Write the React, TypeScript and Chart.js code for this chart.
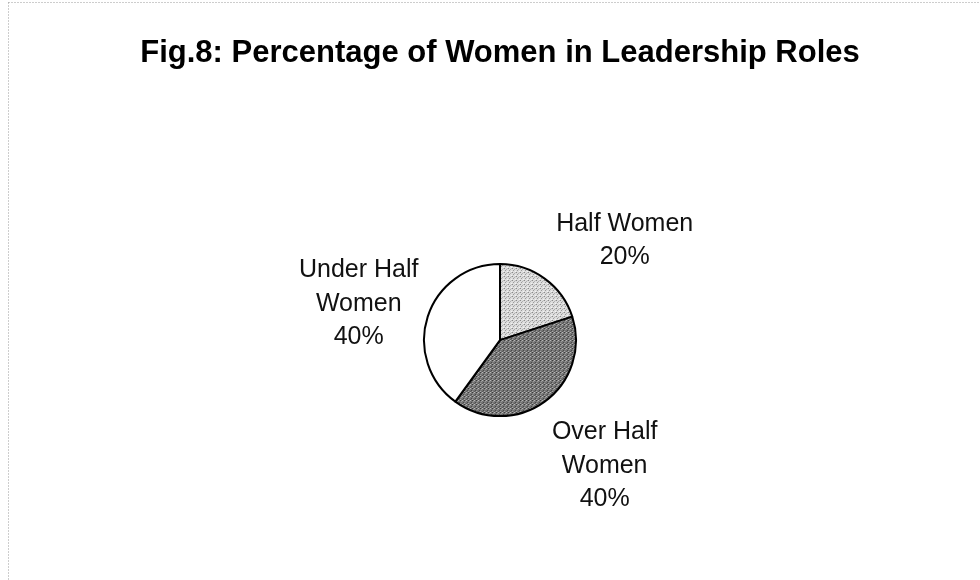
import React, { useEffect, useRef } from "react";
import { Chart, registerables } from "chart.js";

Chart.register(...registerables);

const titleText = "Fig.8: Percentage of Women in Leadership Roles";
const categories = ["Half Women", "Over Half Women", "Under Half Women"];
const labelNames = [["Half Women"], ["Over Half", "Women"], ["Under Half", "Women"]];
const values = [20, 40, 40];
// label offsets from the arc's outer edge at its mid-angle (px)
const labelOffsets = [
  [80, -40],
  [60, 62],
  [-69, -15],
];

function makePattern(bg: string, dots: [number, number, string][], size: number) {
  const c = document.createElement("canvas");
  c.width = size;
  c.height = size;
  const g = c.getContext("2d")!;
  g.fillStyle = bg;
  g.fillRect(0, 0, size, size);
  for (const [x, y, col] of dots) {
    g.fillStyle = col;
    g.fillRect(x, y, 1, 1);
  }
  const ctx = document.createElement("canvas").getContext("2d")!;
  return ctx.createPattern(c, "repeat") as CanvasPattern;
}

export default function App() {
  const ref = useRef<HTMLCanvasElement | null>(null);

  useEffect(() => {
    document.body.style.margin = "0";
    const lightPat = makePattern(
      "#dcdcdc",
      [
        [0, 0, "#8a8a8a"],
        [2, 1, "#b0b0b0"],
        [1, 2, "#9a9a9a"],
        [3, 3, "#f4f4f4"],
        [3, 0, "#c0c0c0"],
      ],
      4
    );
    const darkPat = makePattern(
      "#767676",
      [
        [0, 0, "#3c3c3c"],
        [2, 0, "#b8b8b8"],
        [1, 1, "#9a9a9a"],
        [3, 2, "#4a4a4a"],
        [0, 3, "#a8a8a8"],
        [2, 3, "#5a5a5a"],
      ],
      4
    );
    const fills = [lightPat, darkPat, "#ffffff"];

    const framePlugin = {
      id: "frame",
      beforeDraw(chart: any) {
        const ctx = chart.ctx;
        ctx.save();
        ctx.fillStyle = "#ffffff";
        ctx.fillRect(0, 0, chart.width, chart.height);
        ctx.strokeStyle = "#9a9a9a";
        ctx.lineWidth = 1;
        ctx.setLineDash([1, 2]);
        ctx.beginPath();
        ctx.moveTo(8.5, 2.5);
        ctx.lineTo(chart.width, 2.5);
        ctx.moveTo(8.5, 2.5);
        ctx.lineTo(8.5, chart.height);
        ctx.stroke();
        ctx.restore();
      },
    };

    const labelPlugin = {
      id: "sliceLabels",
      afterDatasetsDraw(chart: any) {
        const ctx = chart.ctx;
        const meta = chart.getDatasetMeta(0);
        const fontSize = 25;
        const lh = 33.5;
        ctx.save();
        ctx.font = `${fontSize}px "Liberation Sans", Arial, sans-serif`;
        ctx.fillStyle = "#111111";
        ctx.textAlign = "center";
        ctx.textBaseline = "alphabetic";
        meta.data.forEach((arc: any, i: number) => {
          const p = arc.getProps(["x", "y", "startAngle", "endAngle", "outerRadius"], true);
          const mid = (p.startAngle + p.endAngle) / 2;
          const ex = p.x + Math.cos(mid) * p.outerRadius;
          const ey = p.y + Math.sin(mid) * p.outerRadius;
          const cx = ex + labelOffsets[i][0];
          const cy = ey + labelOffsets[i][1];
          const lines = [...labelNames[i], `${values[i]}%`];
          const first = cy - ((lines.length - 1) * lh) / 2 + fontSize * 0.716 / 2;
          lines.forEach((t, k) => ctx.fillText(t, cx, first + k * lh));
        });
        ctx.restore();
      },
    };

    const chart = new Chart(ref.current!, {
      type: "pie",
      data: {
        labels: categories,
        datasets: [
          {
            data: values,
            backgroundColor: fills as any,
            borderColor: "#000000",
            borderWidth: 2,
            radius: 76,
          } as any,
        ],
      },
      options: {
        responsive: false,
        animation: false,
        layout: { padding: { left: 20, right: 0, top: 0, bottom: 0 } },
        plugins: {
          legend: { display: false },
          tooltip: { enabled: false },
          title: {
            display: true,
            text: titleText,
            color: "#000000",
            font: { family: '"Liberation Sans", Arial, sans-serif', size: 31, weight: "bold", lineHeight: 1.2 },
            padding: { top: 35, bottom: 28 },
          },
        },
      },
      plugins: [framePlugin, labelPlugin],
    });
    return () => chart.destroy();
  }, []);

  return (
    <div style={{ width: 980, height: 580 }}>
      <canvas ref={ref} width={980} height={580} />
    </div>
  );
}
